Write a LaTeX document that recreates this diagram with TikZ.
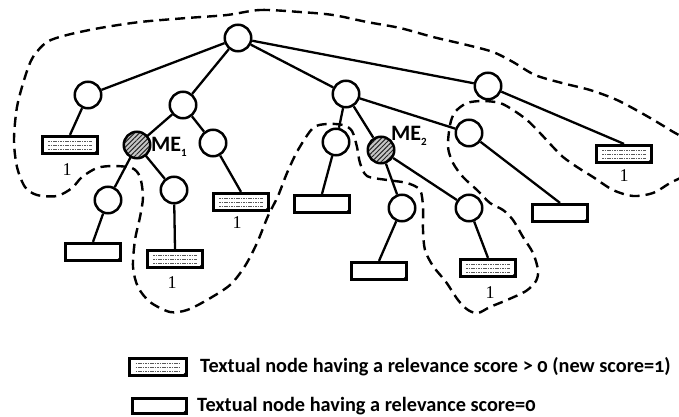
\documentclass[tikz,border=0pt]{standalone}
\usepackage{fontspec}
\setmainfont{Liberation Serif}
\newfontfamily\labelsans[Numbers=OldStyle]{Carlito}
\newfontfamily\subsans{Carlito}
\usetikzlibrary{patterns.meta}

\begin{document}
\begin{tikzpicture}[x=1pt, y=-1pt,
  inner/.style={circle, draw, line width=2.5pt, minimum size=26.5pt, inner sep=0pt, fill=white},
  marked/.style={circle, draw, line width=2.5pt, minimum size=26.5pt, inner sep=0pt,
    preaction={fill=gray!45},
    pattern={Lines[angle=45, distance=3.3pt, line width=1pt]}, pattern color=black!85},
  textbox/.style={rectangle, draw, line width=3.2pt, minimum width=55.5pt, minimum height=17pt,
    inner sep=0pt, fill=white},
  scored/.style={textbox, path picture={
    \foreach \dy in {-4,0,4}
      \draw[black!65, line width=0.7pt, dash pattern=on 1.6pt off 0.8pt]
        ([xshift=6pt, yshift=\dy pt]path picture bounding box.west) --
        ([xshift=-6pt, yshift=\dy pt]path picture bounding box.east);}},
  treeline/.style={line width=2.3pt},
  region/.style={line width=2.4pt, dash pattern=on 10pt off 6pt},
  scorelabel/.style={font=\fontsize{18}{18}\selectfont, inner sep=0pt},
  melabel/.style={font=\labelsans\bfseries\fontsize{22}{22}\selectfont, inner sep=0pt, anchor=west},
  legendtext/.style={font=\labelsans\bfseries\fontsize{20.3}{20.3}\selectfont, inner sep=0pt, anchor=west}
]
\clip (0,0) rectangle (679,417);

% dashed region grouping the relevant sub-trees
\draw[region] plot[smooth cycle, tension=0.5] coordinates {
  (227,15) (260,10) (300,12) (333,15) (367,22) (400,28) (433,37) (467,45)
  (493,52) (513,62) (535,75) (562,83) (590,90) (617,100) (645,115) (670,130)
  (692,145) (692,170) (670,183) (653,193) (633,196) (613,190) (593,177)
  (577,167) (563,157) (553,147) (540,133) (527,120) (513,110) (500,103)
  (483,101) (467,103) (455,112) (450,125) (448,147) (453,163) (463,177)
  (477,190) (490,203) (503,210) (513,220) (523,237) (533,253) (538,270)
  (536,281) (526,291) (507,300) (490,307) (478,313) (468,310) (458,300)
  (446,282) (433,266) (425,250) (423,230) (423,207) (420,190) (407,183)
  (387,180) (367,176) (360,163) (357,147) (352,131) (343,125) (327,124)
  (313,128) (298,150) (287,173) (278,196) (268,216) (257,243) (245,266)
  (230,285) (207,300) (187,310) (170,312) (150,302) (138,287) (133,267)
  (135,240) (140,217) (143,197) (140,177) (132,168) (113,166) (97,168)
  (82,177) (72,188) (57,196) (37,195) (25,187) (17,167) (14,140) (17,107)
  (25,77) (33,57) (47,42) (67,35) (100,28) (140,22) (187,18)};

% inner nodes of the tree
\node[inner]  (R)   at (238,38)  {};
\node[inner]  (A)   at (88,95)   {};
\node[inner]  (B)   at (183,105) {};
\node[inner]  (C)   at (346,94)  {};
\node[inner]  (D)   at (488,86)  {};
\node[marked] (ME1) at (137,145) {};
\node[inner]  (E)   at (213,143) {};
\node[inner]  (F)   at (108,200) {};
\node[inner]  (G)   at (174,190) {};
\node[inner]  (H)   at (336,142) {};
\node[marked] (ME2) at (381,150) {};
\node[inner]  (I)   at (469,133) {};
\node[inner]  (J)   at (402,208) {};
\node[inner]  (K)   at (469,208) {};

% textual leaves
\node[scored]  (T1) at (70,145)  {};
\node[textbox] (T2) at (93,252)  {};
\node[scored]  (T3) at (175,259) {};
\node[scored]  (T4) at (241,202) {};
\node[textbox] (T5) at (322,204) {};
\node[textbox] (T6) at (379,271) {};
\node[scored]  (T7) at (488,268) {};
\node[textbox] (T8) at (560,213) {};
\node[scored]  (T9) at (624,154) {};

% legend samples
\node[scored]  (LB1) at (158,367) [minimum width=57pt] {};
\node[textbox] (LB2) at (159.5,406) [minimum width=54pt, minimum height=15pt] {};

% folded corner of each textual leaf
\foreach \t in {T1,T2,T3,T4,T5,T6,T7,T8,T9,LB1,LB2}
  \fill ([xshift=-1pt, yshift=1pt]\t.south east) -- ([xshift=-6.5pt, yshift=1pt]\t.south east)
        -- ([xshift=-1pt, yshift=6.5pt]\t.south east) -- cycle;

% tree edges
\draw[treeline] (R) -- (A);
\draw[treeline] (R) -- (B);
\draw[treeline] (R) -- (C);
\draw[treeline] (R) -- (D);
\draw[treeline] (A) -- (T1.north);
\draw[treeline] (B) -- (ME1);
\draw[treeline] (B) -- (E);
\draw[treeline] (ME1) -- (F);
\draw[treeline] (ME1) -- (G);
\draw[treeline] (F) -- (T2.north);
\draw[treeline] (G) -- (T3.north);
\draw[treeline] (E) -- (T4.north);
\draw[treeline] (C) -- (H);
\draw[treeline] (C) -- (ME2);
\draw[treeline] (C) -- (I);
\draw[treeline] (H) -- (T5.north);
\draw[treeline] (ME2) -- (J);
\draw[treeline] (ME2) -- (K);
\draw[treeline] (J) -- (T6.north);
\draw[treeline] (K) -- (T7.north);
\draw[treeline] (I) -- (T8.north);
\draw[treeline] (D) -- (T9.north);

% relevance scores
\node[scorelabel] (S1) at (67,170)  {1};
\node[scorelabel] (S3) at (172,283) {1};
\node[scorelabel] (S4) at (237,223) {1};
\node[scorelabel] (S7) at (490,293) {1};
\node[scorelabel] (S9) at (624,176) {1};

% labels of the marked elements
\node[melabel] (M1) at (151,147) {ME\raisebox{-0.5ex}{\subsans\bfseries\fontsize{11}{11}\selectfont 1}};
\node[melabel] (M2) at (391,136) {ME\raisebox{-0.5ex}{\subsans\bfseries\fontsize{11}{11}\selectfont 2}};

% legend
\node[legendtext] (LT1) at (200,367) {Textual node having a relevance score > 0 (new score=1)};
\node[legendtext] (LT2) at (197,406) {Textual node having a relevance score=0};
\end{tikzpicture}
\end{document}
